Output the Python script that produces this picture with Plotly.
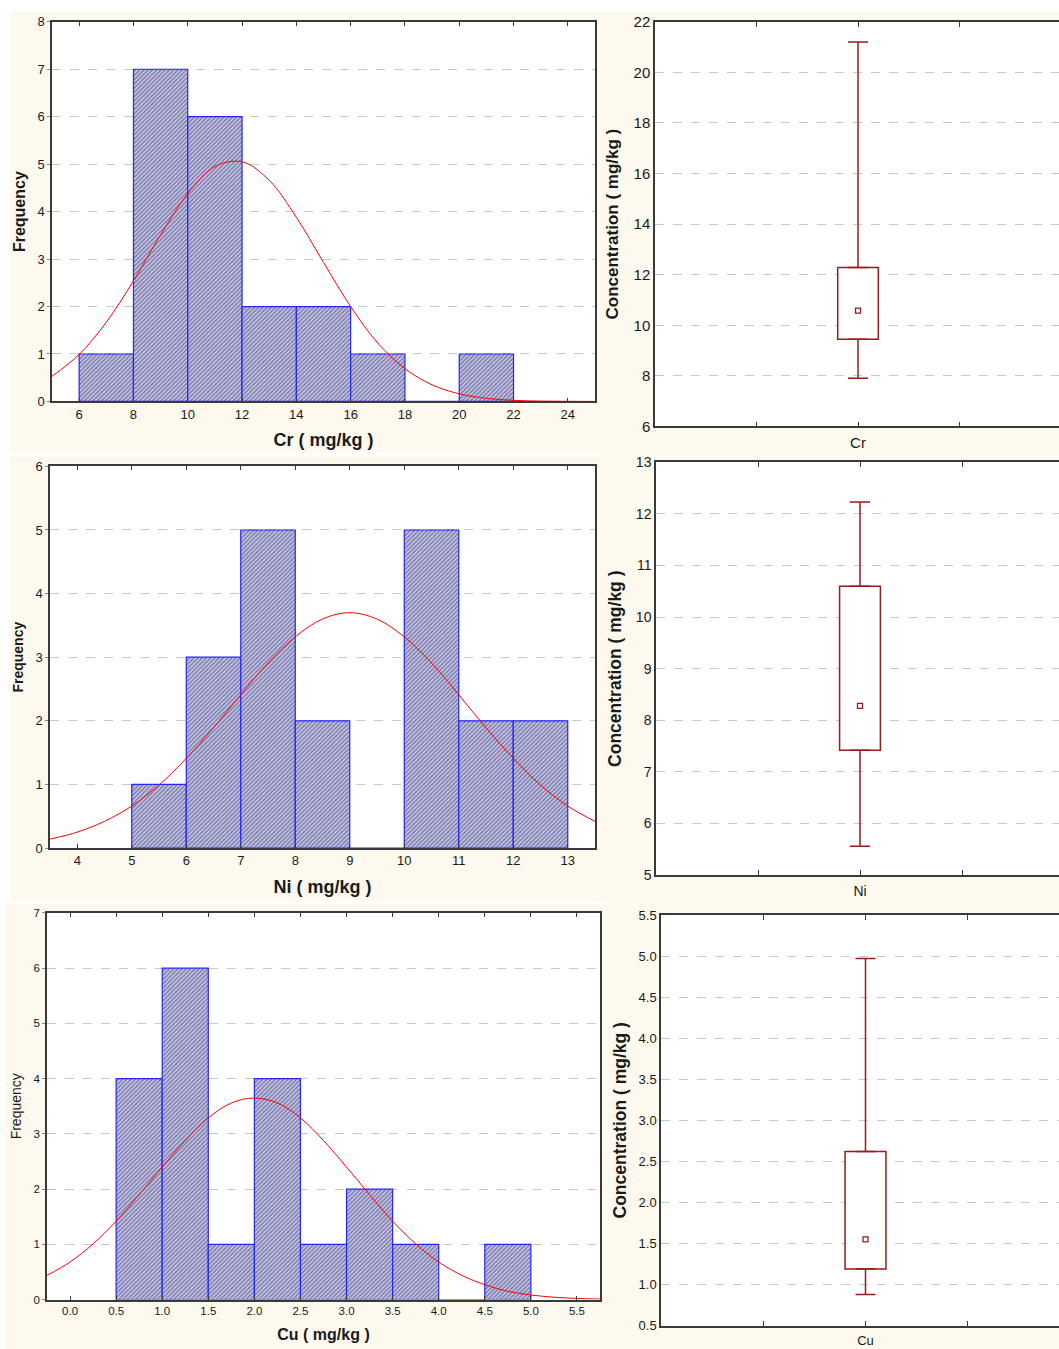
import plotly.graph_objects as go

W, H = 1059, 1349

# ---------------- data ----------------
cr_bin_left = [6, 8, 10, 12, 14, 16, 18, 20]
cr_counts = [1, 7, 6, 2, 2, 1, 0, 1]
cr_bin_width = 2
cr_curve_x = [5, 6, 7, 8, 9, 10, 11, 12, 13, 14, 15, 16, 17, 18, 19, 20, 21, 22, 23, 24, 25]
cr_curve_y = [0.53, 0.99, 1.67, 2.54, 3.51, 4.38, 4.95, 5.05, 4.66, 3.88, 2.93, 2.00, 1.23,
              0.69, 0.35, 0.16, 0.065, 0.024, 0.008, 0.003, 0.001]

ni_bin_left = [5, 6, 7, 8, 9, 10, 11, 12]
ni_counts = [1, 3, 5, 2, 0, 5, 2, 2]
ni_bin_width = 1
ni_curve_x = [3.5, 4, 4.5, 5, 5.5, 6, 6.5, 7, 7.5, 8, 8.5, 9, 9.5, 10, 10.5, 11, 11.5, 12,
              12.5, 13, 13.5]
ni_curve_y = [0.14, 0.25, 0.42, 0.66, 0.99, 1.41, 1.89, 2.41, 2.91, 3.32, 3.60, 3.70, 3.60,
              3.32, 2.91, 2.41, 1.89, 1.41, 0.99, 0.66, 0.42]

cu_bin_left = [0.5, 1.0, 1.5, 2.0, 2.5, 3.0, 3.5, 4.0, 4.5]
cu_counts = [4, 6, 1, 4, 1, 2, 1, 0, 1]
cu_bin_width = 0.5
cu_curve_x = [-0.25, 0, 0.25, 0.5, 0.75, 1.0, 1.25, 1.5, 1.75, 2.0, 2.25, 2.5, 2.75, 3.0,
              3.25, 3.5, 3.75, 4.0, 4.25, 4.5, 4.75, 5.0, 5.25, 5.5, 5.75]
cu_curve_y = [0.44, 0.68, 1.01, 1.42, 1.90, 2.40, 2.88, 3.29, 3.56, 3.65, 3.56, 3.29, 2.88,
              2.40, 1.90, 1.42, 1.01, 0.68, 0.44, 0.27, 0.15, 0.084, 0.044, 0.022, 0.010]

# box statistics: [min, q1, median, q3, max]
cr_box = [7.9, 9.45, 10.58, 12.28, 21.2]
ni_box = [5.56, 7.42, 8.28, 10.6, 12.23]
cu_box = [0.88, 1.19, 1.55, 2.62, 4.97]

cr_xticks = [6, 8, 10, 12, 14, 16, 18, 20, 22, 24]
ni_xticks = [4, 5, 6, 7, 8, 9, 10, 11, 12, 13]
cu_xticks = [0.0, 0.5, 1.0, 1.5, 2.0, 2.5, 3.0, 3.5, 4.0, 4.5, 5.0, 5.5]

# ---------------- style ----------------
FONT = "Liberation Sans, Arial, sans-serif"
CREAM = "#FDF9EE"
AXC = "#3a3a3a"
GRIDC = "#C8C8C8"
BOXC = "#9E1A1A"
BAR_LINE = "#2424FF"

# observed vertical placement of the rendered page (offset, scale)
V_OFF, V_SCALE = 7.2, 0.9883


def px_x(p):
    return p / W


def px_y(p):
    return 1 - ((p - V_OFF) / V_SCALE) / H


fig = go.Figure()


def add_hist(n, left, counts, bw, cx, cy):
    fig.add_trace(go.Bar(
        x=left, y=counts, width=bw, offset=0,
        marker=dict(color="#C8C8E6", line=dict(color=BAR_LINE, width=1.2),
                    pattern=dict(shape="/", fgcolor="#2C2C70", bgcolor="#CFCFEA",
                                 size=3, solidity=0.55)),
        xaxis=f"x{n}", yaxis=f"y{n}", showlegend=False, hoverinfo="skip"))
    fig.add_trace(go.Scatter(
        x=cx, y=cy, mode="lines", line=dict(color="#FF0000", width=1, shape="spline"),
        xaxis=f"x{n}", yaxis=f"y{n}", showlegend=False, hoverinfo="skip"))


def add_box(n, stats, xpos):
    mn, q1, med, q3, mx = stats
    fig.add_trace(go.Bar(
        x=[xpos], y=[q3 - q1], base=[q1], width=0.4,
        marker=dict(color="white", line=dict(color=BOXC, width=1.5)),
        xaxis=f"x{n}", yaxis=f"y{n}", showlegend=False, hoverinfo="skip"))
    fig.add_trace(go.Scatter(
        x=[xpos, xpos], y=[q3, q1], mode="markers", marker=dict(opacity=0, size=1),
        error_y=dict(type="data", symmetric=False, array=[mx - q3, 0],
                     arrayminus=[0, q1 - mn], color=BOXC, thickness=1.5, width=10),
        xaxis=f"x{n}", yaxis=f"y{n}", showlegend=False, hoverinfo="skip"))
    fig.add_trace(go.Scatter(
        x=[xpos], y=[med], mode="markers",
        marker=dict(symbol="square-open", size=5, color=BOXC, line=dict(width=1.3, color=BOXC)),
        xaxis=f"x{n}", yaxis=f"y{n}", showlegend=False, hoverinfo="skip"))


add_hist(1, cr_bin_left, cr_counts, cr_bin_width, cr_curve_x, cr_curve_y)
add_hist(2, ni_bin_left, ni_counts, ni_bin_width, ni_curve_x, ni_curve_y)
add_hist(3, cu_bin_left, cu_counts, cu_bin_width, cu_curve_x, cu_curve_y)
add_box(4, cr_box, 2)
add_box(5, ni_box, 2)
add_box(6, cu_box, 2)

# ---------------- axes ----------------
layout = dict(
    width=W, height=H, margin=dict(l=0, r=0, t=0, b=0),
    paper_bgcolor=CREAM, plot_bgcolor="white", showlegend=False,
    font=dict(family=FONT, color="#1a1a1a", size=12), barmode="overlay",
)

hist_specs = [
    # n, x px, y px, xrange, xticks, yrange, xtitle, xtitle size, ytitle size, bold, tickfmt, tick size, y standoff
    (1, (52, 595), (20, 400), [5, 25], cr_xticks, [0, 8], "Cr ( mg/kg )", 18, 16, True, None, 13, 8),
    (2, (50, 595), (465, 847), [3.5, 13.5], ni_xticks, [0, 6], "Ni ( mg/kg )", 18, 14, True, None, 13, 9),
    (3, (47, 600), (912, 1299), [-0.25, 5.75], cu_xticks, [0, 7], "Cu ( mg/kg )", 16, 14, False, ".1f", 11.5, 9),
]
for n, (x0, x1), (y0, y1), xr, xt, yr, xtitle, xts, yfs, ybold, tf, tks, yso in hist_specs:
    xa = dict(domain=[px_x(x0), px_x(x1)], range=xr, tickvals=xt, anchor=f"y{n}",
              showline=True, linecolor=AXC, linewidth=1.5, mirror="ticks",
              ticks="inside", ticklen=4, tickcolor=AXC, showgrid=False, zeroline=False,
              tickfont=dict(size=tks), fixedrange=True,
              title=dict(text=f"<b>{xtitle}</b>", font=dict(size=xts), standoff=13))
    if tf:
        xa["tickformat"] = tf
    ytxt = "Frequency" if not ybold else "<b>Frequency</b>"
    ya = dict(domain=[px_y(y1), px_y(y0)], range=yr, dtick=1, anchor=f"x{n}",
              showline=True, linecolor=AXC, linewidth=1.5, mirror=True,
              ticks="outside", ticklen=3, tickcolor="#888", showgrid=True,
              gridcolor=GRIDC, griddash="dash", gridwidth=1, zeroline=False,
              tickfont=dict(size=tks), fixedrange=True,
              title=dict(text=ytxt, font=dict(size=yfs), standoff=yso))
    key = "" if n == 1 else str(n)
    layout["xaxis" + key] = xa
    layout["yaxis" + key] = ya

box_specs = [
    # n, left px, y px, px per unit, yrange, dtick, label, tickfmt, title standoff, tick size, title size
    (4, 655, (20, 425), 101.5, [6, 22], 2, "Cr", None, 11, 15, 17),
    (5, 656, (461, 874), 102.0, [5, 13], 1, "Ni", None, 10, 14, 17.5),
    (6, 661, (914, 1325), 102.25, [0.5, 5.5], 0.5, "Cu", ".1f", 7, 13, 17.5),
]
for n, x0, (y0, y1), step, yr, dt, lab, tf, so, tks, tts in box_specs:
    xa = dict(domain=[px_x(x0), 1.0], range=[0, (W - x0) / step], tickvals=[1, 2, 3],
              ticktext=["", lab, ""], anchor=f"y{n}",
              showline=True, linecolor=AXC, linewidth=1.5, mirror="ticks",
              ticks="inside", ticklen=5, tickcolor=AXC, showgrid=False, zeroline=False,
              tickfont=dict(size=tks), ticklabelstandoff=2, fixedrange=True)
    ya = dict(domain=[px_y(y1), px_y(y0)], range=yr, dtick=dt, anchor=f"x{n}",
              showline=True, linecolor=AXC, linewidth=1.5, mirror=False,
              ticks="", showgrid=True, gridcolor=GRIDC, griddash="dash", gridwidth=1,
              zeroline=False, tickfont=dict(size=tks), fixedrange=True,
              title=dict(text="<b>Concentration ( mg/kg )</b>", font=dict(size=tts), standoff=so))
    if tf:
        ya["tickformat"] = tf
    layout[f"xaxis{n}"] = xa
    layout[f"yaxis{n}"] = ya

# white gaps between the image tiles
gaps = [
    (0, -20, W, 10),
    (0, -20, 10, 903),
    (0, 451, 600, 455),
    (0, 900, 606, 903),
    (0, 903, 5, H + 20),
]
layout["shapes"] = [
    dict(type="rect", xref="paper", yref="paper", x0=px_x(a), x1=px_x(c), y0=px_y(d), y1=px_y(b),
         fillcolor="white", line=dict(width=0), layer="below")
    for a, b, c, d in gaps
]

fig.update_layout(**layout)
fig.write_html("out.html", config={"displayModeBar": False, "responsive": False})

# remove default page margins / scrollbars so the figure fills the window exactly
css = ("<style>html,body{margin:0;padding:0;overflow:hidden;width:1059px;height:1349px;"
       "background:#FDF9EE;}"
       ".plotly-graph-div{position:absolute !important;top:0;left:0;}</style>")
with open("out.html", "r", encoding="utf-8") as f:
    html = f.read()
html = html.replace("<head>", "<head>" + css, 1)
with open("out.html", "w", encoding="utf-8") as f:
    f.write(html)
